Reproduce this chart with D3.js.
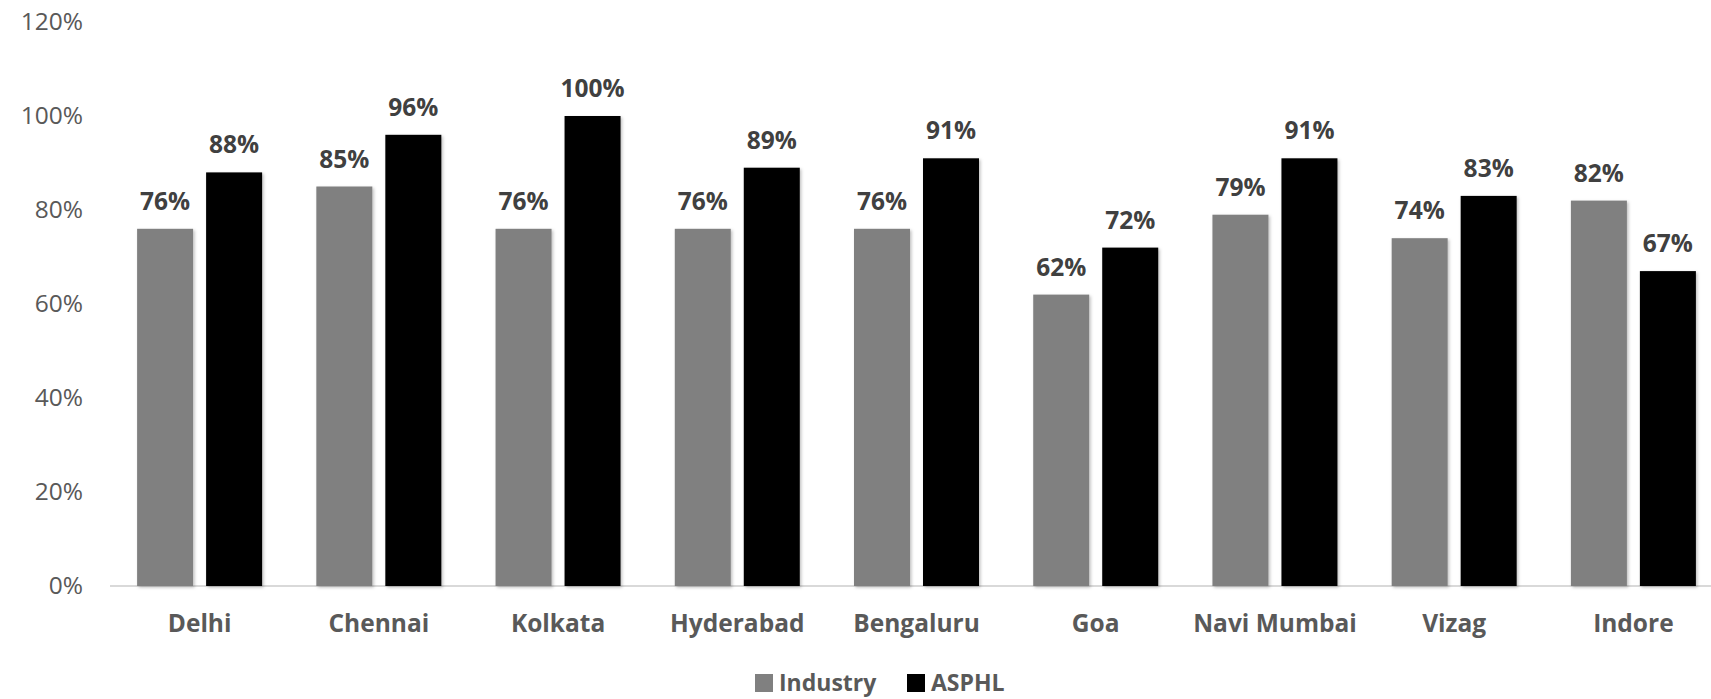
<!DOCTYPE html>
<html><head><meta charset="utf-8">
<script src="https://cdn.jsdelivr.net/npm/d3@7"></script>
<style>html,body{margin:0;padding:0;background:#fff;overflow:hidden}</style>
</head><body>
<svg id="chart" width="1711" height="699"></svg>
<script>
const categories = ["Delhi","Chennai","Kolkata","Hyderabad","Bengaluru","Goa","Navi Mumbai","Vizag","Indore"];
const industry = [76,85,76,76,76,62,79,74,82];
const asphl = [88,96,100,89,91,72,91,83,67];
const seriesNames = ["Industry","ASPHL"];
const seriesColors = ["#808080","#000000"];
const yTicks = [0,20,40,60,80,100,120];

const svg = d3.select("#chart");
const font = "'Open Sans', sans-serif";
const defs = svg.append("defs");
const f = defs.append("filter").attr("id","sh").attr("x","-20%").attr("y","-20%").attr("width","140%").attr("height","140%");
f.append("feDropShadow").attr("dx",1.5).attr("dy",1.5).attr("stdDeviation",1.8).attr("flood-color","#000").attr("flood-opacity",0.25);

const x0 = d3.scaleBand().domain(categories).range([110, 1723]).paddingInner(0).paddingOuter(0);
const y = d3.scaleLinear().domain([0,120]).range([586, 22]);
const bw = x0.bandwidth();
const barW = 56, gap = 13;
const x1 = d3.scaleOrdinal().domain(seriesNames).range([(bw - 2*barW - gap)/2, (bw - 2*barW - gap)/2 + barW + gap]);

// y axis labels
const yAxis = d3.axisLeft(y).tickValues(yTicks).tickFormat(d => d + "%").tickSize(0).tickPadding(0);
const ya = svg.append("g").attr("transform","translate(83,0)").call(yAxis);
ya.select(".domain").remove();
ya.selectAll("text").attr("font-family",font).attr("font-size",24.5).attr("fill","#595959");

// baseline
svg.append("line").attr("x1",110).attr("x2",1711).attr("y1",y(0)).attr("y2",y(0)).attr("stroke","#d9d9d9").attr("stroke-width",2);

const data = categories.map((c,i)=>({cat:c, vals:[{s:"Industry",v:industry[i]},{s:"ASPHL",v:asphl[i]}]}));
const groups = svg.append("g").selectAll("g").data(data).join("g").attr("transform",d=>`translate(${x0(d.cat)},0)`);
groups.selectAll("rect").data(d=>d.vals).join("rect")
  .attr("x",d=>x1(d.s)).attr("width",barW)
  .attr("y",d=>y(d.v)).attr("height",d=>y(0)-y(d.v))
  .attr("fill",(d,i)=>seriesColors[i]).attr("filter","url(#sh)");
groups.selectAll("text.lbl").data(d=>d.vals).join("text").attr("class","lbl")
  .attr("x",d=>x1(d.s)+barW/2).attr("y",d=>y(d.v)-19)
  .attr("text-anchor","middle").attr("font-family",font).attr("font-weight","bold").attr("font-size",24.5).attr("fill","#404040")
  .text(d=>d.v+"%");

// x axis labels
const xAxis = d3.axisBottom(x0).tickSize(0).tickPadding(0);
const xa = svg.append("g").attr("transform",`translate(0,${y(0)+46})`).call(xAxis);
xa.select(".domain").remove();
xa.selectAll("text").attr("font-family",font).attr("font-weight","bold").attr("font-size",24.5).attr("fill","#595959").attr("dy","0");

// legend
const leg = svg.append("g");
const legX = [755, 907];
seriesNames.forEach((s,i)=>{
  leg.append("rect").attr("x",legX[i]).attr("y",674).attr("width",18).attr("height",18).attr("fill",seriesColors[i]);
  leg.append("text").attr("x",legX[i]+24).attr("y",691).attr("font-family",font).attr("font-weight","bold").attr("font-size",23).attr("fill","#595959").text(s);
});
</script>
</body></html>
